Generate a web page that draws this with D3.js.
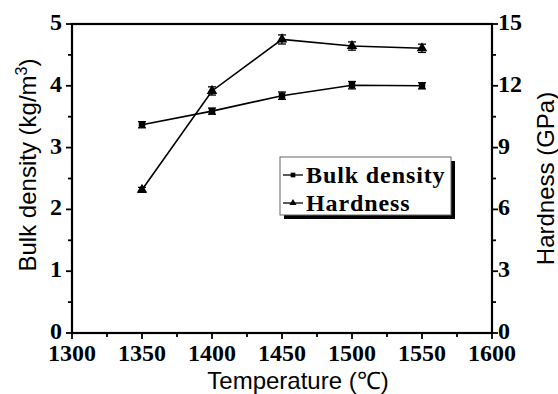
<!DOCTYPE html>
<html>
<head>
<meta charset="utf-8">
<script src="https://cdn.jsdelivr.net/npm/d3@7"></script>
<style>
  body { margin: 0; background: #fff; }
</style>
</head>
<body>
<svg id="CHART" width="558" height="394"></svg>
<script>
const temps = [1350, 1400, 1450, 1500, 1550];
const density = [3.37, 3.59, 3.84, 4.01, 4.0];
const densityErr = [0.05, 0.05, 0.06, 0.06, 0.05];
const hardness = [6.95, 11.75, 14.25, 13.93, 13.82];
const hardnessErr = [0.12, 0.2, 0.22, 0.2, 0.2];
const xTicks = [1300, 1350, 1400, 1450, 1500, 1550, 1600];
const leftTicks = [0, 1, 2, 3, 4, 5];
const rightTicks = [0, 3, 6, 9, 12, 15];

const SERIF = "Liberation Serif, Times New Roman, serif";
const SANS = "Liberation Sans, Arial, sans-serif";

const plotL = 72, plotR = 492, plotT = 24, plotB = 333;

const x = d3.scaleLinear().domain([1300, 1600]).range([plotL, plotR]);
const yL = d3.scaleLinear().domain([0, 5]).range([plotB, plotT]);
const yR = d3.scaleLinear().domain([0, 15]).range([plotB, plotT]);

const svg = d3.select("#CHART");

// frame
svg.append("rect").attr("x", plotL).attr("y", plotT)
  .attr("width", plotR - plotL).attr("height", plotB - plotT)
  .attr("fill", "none").attr("stroke", "#000").attr("stroke-width", 2.2);

// ticks (major + minor)
const tk = svg.append("g").attr("stroke", "#000").attr("stroke-width", 1.8);
d3.range(1300, 1601, 25).forEach((v) => {
  const major = v % 50 === 0;
  tk.append("line").attr("x1", x(v)).attr("x2", x(v))
    .attr("y1", plotB).attr("y2", plotB + (major ? 6 : 4));
});
d3.range(0, 5.01, 0.5).forEach((v) => {
  const major = Math.abs(v - Math.round(v)) < 1e-6;
  tk.append("line").attr("x1", plotL).attr("x2", plotL - (major ? 6 : 4))
    .attr("y1", yL(v)).attr("y2", yL(v));
});
d3.range(0, 15.01, 1.5).forEach((v) => {
  const major = Math.abs(v / 3 - Math.round(v / 3)) < 1e-6;
  tk.append("line").attr("x1", plotR).attr("x2", plotR + (major ? 6 : 4))
    .attr("y1", yR(v)).attr("y2", yR(v));
});

const tickText = (sel) => sel
  .attr("font-family", SERIF).attr("font-weight", "bold").attr("font-size", 24);

svg.append("g").selectAll("text").data(xTicks).join("text")
  .call(tickText).attr("x", (d) => x(d)).attr("y", plotB + 28)
  .attr("text-anchor", "middle").text((d) => d);
svg.append("g").selectAll("text").data(leftTicks).join("text")
  .call(tickText).attr("x", plotL - 10).attr("y", (d) => yL(d) + 6)
  .attr("text-anchor", "end").text((d) => d);
svg.append("g").selectAll("text").data(rightTicks).join("text")
  .call(tickText).attr("x", plotR + 6).attr("y", (d) => yR(d) + 6)
  .attr("text-anchor", "start").text((d) => d);

// titles
svg.append("text").attr("font-family", SANS).attr("font-size", 24)
  .attr("x", 298).attr("y", 389)
  .attr("text-anchor", "middle").text("Temperature (℃)");
svg.append("text").attr("font-family", SANS).attr("font-size", 24)
  .attr("transform", `translate(36, 165) rotate(-90)`)
  .attr("text-anchor", "middle")
  .html('Bulk density (kg/m<tspan dy="-9" font-size="16">3</tspan><tspan dy="9">)</tspan>');
svg.append("text").attr("font-family", SANS).attr("font-size", 24)
  .attr("transform", `translate(554, ${(plotT + plotB) / 2}) rotate(-90)`)
  .attr("text-anchor", "middle").text("Hardness (GPa)");

function drawSeries(vals, errs, y, shape) {
  const g = svg.append("g");
  const pts = temps.map((t, i) => [x(t), y(vals[i])]);
  g.append("path").attr("d", d3.line()(pts)).attr("fill", "none")
    .attr("stroke", "#000").attr("stroke-width", 1.6);
  temps.forEach((t, i) => {
    const cx = x(t);
    const y1 = y(vals[i] + errs[i]), y2 = y(vals[i] - errs[i]);
    g.append("line").attr("x1", cx).attr("x2", cx).attr("y1", y1).attr("y2", y2)
      .attr("stroke", "#000").attr("stroke-width", 1.3);
    [y1, y2].forEach((yy) => {
      g.append("line").attr("x1", cx - 4).attr("x2", cx + 4).attr("y1", yy).attr("y2", yy)
        .attr("stroke", "#000").attr("stroke-width", 1.3);
    });
  });
  g.selectAll("path.sym").data(pts).join("path").attr("class", "sym")
    .attr("transform", (d) => `translate(${d[0]},${d[1]})`)
    .attr("d", d3.symbol().type(shape).size(shape === d3.symbolSquare ? 42 : 48))
    .attr("fill", "#000");
}
drawSeries(density, densityErr, yL, d3.symbolSquare);
drawSeries(hardness, hardnessErr, yR, d3.symbolTriangle);

// legend with drop shadow
const lg = svg.append("g");
lg.append("rect").attr("x", 284).attr("y", 161).attr("width", 171).attr("height", 58).attr("fill", "#000");
lg.append("rect").attr("x", 280).attr("y", 157).attr("width", 171).attr("height", 58)
  .attr("fill", "#fff").attr("stroke", "#666").attr("stroke-width", 1);
const legendItems = [["Bulk density", d3.symbolSquare], ["Hardness", d3.symbolTriangle]];
legendItems.forEach((d, i) => {
  const base = 183 + i * 28;
  const yy = base - 8;
  lg.append("line").attr("x1", 283).attr("x2", 303).attr("y1", yy).attr("y2", yy)
    .attr("stroke", "#000").attr("stroke-width", 1.3);
  lg.append("path").attr("transform", `translate(293,${yy})`)
    .attr("d", d3.symbol().type(d[1]).size(22)).attr("fill", "#000");
  lg.append("text").attr("x", 306).attr("y", base)
    .attr("font-family", SERIF).attr("font-weight", "bold").attr("font-size", 24)
    .attr("letter-spacing", 0.9).text(d[0]);
});
</script>
</body>
</html>
